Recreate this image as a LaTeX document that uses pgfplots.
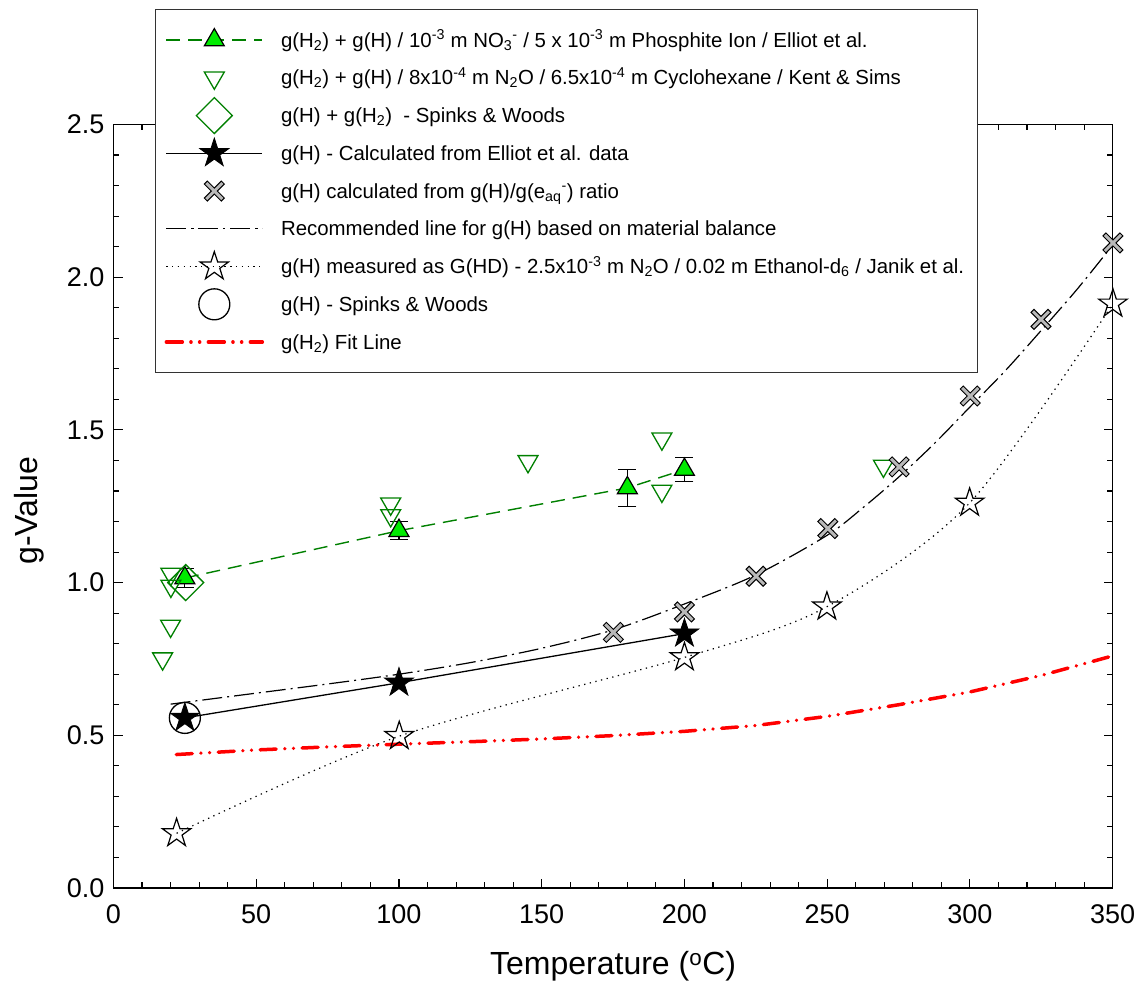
\documentclass[border=0pt]{standalone}
\usepackage{fontspec}
\setmainfont{Liberation Sans}
\usepackage{pgfplots}
\pgfplotsset{compat=1.18}
\usetikzlibrary{plotmarks}

\definecolor{dkgreen}{RGB}{0,128,0}
\definecolor{ltgreen}{RGB}{0,235,0}
\definecolor{xgray}{RGB}{185,185,185}

% filled 5-pointed star
\pgfdeclareplotmark{fstar}{%
  \pgfpathmoveto{\pgfqpoint{0pt}{\pgfplotmarksize}}%
  \pgfpathlineto{\pgfqpoint{-0.2245\pgfplotmarksize}{0.309\pgfplotmarksize}}%
  \pgfpathlineto{\pgfqpoint{-0.9511\pgfplotmarksize}{0.309\pgfplotmarksize}}%
  \pgfpathlineto{\pgfqpoint{-0.3633\pgfplotmarksize}{-0.118\pgfplotmarksize}}%
  \pgfpathlineto{\pgfqpoint{-0.5878\pgfplotmarksize}{-0.809\pgfplotmarksize}}%
  \pgfpathlineto{\pgfqpoint{0pt}{-0.382\pgfplotmarksize}}%
  \pgfpathlineto{\pgfqpoint{0.5878\pgfplotmarksize}{-0.809\pgfplotmarksize}}%
  \pgfpathlineto{\pgfqpoint{0.3633\pgfplotmarksize}{-0.118\pgfplotmarksize}}%
  \pgfpathlineto{\pgfqpoint{0.9511\pgfplotmarksize}{0.309\pgfplotmarksize}}%
  \pgfpathlineto{\pgfqpoint{0.2245\pgfplotmarksize}{0.309\pgfplotmarksize}}%
  \pgfpathclose
  \pgfusepathqfillstroke
}
% open 5-pointed star
\pgfdeclareplotmark{ostar}{%
  \pgfpathmoveto{\pgfqpoint{0pt}{\pgfplotmarksize}}%
  \pgfpathlineto{\pgfqpoint{-0.2245\pgfplotmarksize}{0.309\pgfplotmarksize}}%
  \pgfpathlineto{\pgfqpoint{-0.9511\pgfplotmarksize}{0.309\pgfplotmarksize}}%
  \pgfpathlineto{\pgfqpoint{-0.3633\pgfplotmarksize}{-0.118\pgfplotmarksize}}%
  \pgfpathlineto{\pgfqpoint{-0.5878\pgfplotmarksize}{-0.809\pgfplotmarksize}}%
  \pgfpathlineto{\pgfqpoint{0pt}{-0.382\pgfplotmarksize}}%
  \pgfpathlineto{\pgfqpoint{0.5878\pgfplotmarksize}{-0.809\pgfplotmarksize}}%
  \pgfpathlineto{\pgfqpoint{0.3633\pgfplotmarksize}{-0.118\pgfplotmarksize}}%
  \pgfpathlineto{\pgfqpoint{0.9511\pgfplotmarksize}{0.309\pgfplotmarksize}}%
  \pgfpathlineto{\pgfqpoint{0.2245\pgfplotmarksize}{0.309\pgfplotmarksize}}%
  \pgfpathclose
  \pgfusepathqstroke
}
% thick outlined X
\pgfdeclareplotmark{fatx}{%
  \pgfpathmoveto{\pgfqpoint{0pt}{0.3\pgfplotmarksize}}%
  \pgfpathlineto{\pgfqpoint{0.7\pgfplotmarksize}{\pgfplotmarksize}}%
  \pgfpathlineto{\pgfqpoint{\pgfplotmarksize}{0.7\pgfplotmarksize}}%
  \pgfpathlineto{\pgfqpoint{0.3\pgfplotmarksize}{0pt}}%
  \pgfpathlineto{\pgfqpoint{\pgfplotmarksize}{-0.7\pgfplotmarksize}}%
  \pgfpathlineto{\pgfqpoint{0.7\pgfplotmarksize}{-\pgfplotmarksize}}%
  \pgfpathlineto{\pgfqpoint{0pt}{-0.3\pgfplotmarksize}}%
  \pgfpathlineto{\pgfqpoint{-0.7\pgfplotmarksize}{-\pgfplotmarksize}}%
  \pgfpathlineto{\pgfqpoint{-\pgfplotmarksize}{-0.7\pgfplotmarksize}}%
  \pgfpathlineto{\pgfqpoint{-0.3\pgfplotmarksize}{0pt}}%
  \pgfpathlineto{\pgfqpoint{-\pgfplotmarksize}{0.7\pgfplotmarksize}}%
  \pgfpathlineto{\pgfqpoint{-0.7\pgfplotmarksize}{\pgfplotmarksize}}%
  \pgfpathclose
  \pgfusepathqfillstroke
}

\begin{document}
\begin{tikzpicture}
\useasboundingbox (0bp,0bp) rectangle (1141bp,994bp);
\begin{axis}[
  at={(113.5bp,106bp)}, anchor=south west,
  scale only axis, width=999.2bp, height=763.5bp,
  xmin=0, xmax=350, ymin=0, ymax=2.5,
  xtick={0,50,...,350}, ytick={0,0.5,1.0,1.5,2.0,2.5},
  minor x tick num=4, minor y tick num=4,
  tick align=inside,
  major tick length=9bp, minor tick length=5.5bp,
  every tick/.style={black, line width=1.1bp},
  axis line style={black, line width=1.3bp},
  /pgf/number format/assume math mode=true,
  tick label style={font=\fontsize{27bp}{32bp}\selectfont},
  yticklabel style={/pgf/number format/.cd, fixed, fixed zerofill, precision=1, /tikz/.cd, xshift=-5.5bp},
  xticklabel style={yshift=-13bp},
  label style={font=\fontsize{32bp}{38bp}\selectfont},
  xlabel={Temperature (\textsuperscript{o}C)},
  ylabel={g-Value},
  xlabel style={at={(axis description cs:0.5,-0.102)}, anchor=center},
  ylabel style={at={(axis description cs:-0.0841,0.494)}, anchor=center},
  clip=false,
  legend image code/.code={\draw[mark repeat=2,mark phase=2,#1] plot coordinates {(0bp,0bp) (48bp,0bp) (96bp,0bp)};},
  legend cell align=left,
  legend style={at={(axis description cs:0.0415,1.1513)}, anchor=north west,
    draw=black!80, line width=1.2bp, fill=white,
    inner xsep=9bp, inner ysep=12.5bp, row sep=1.75bp, column sep=13bp,
    font=\fontsize{20.4bp}{24bp}\selectfont,
    nodes={text height=25bp, text depth=11bp, inner ysep=0bp, inner xsep=4bp}},
]

% 1: Elliot et al. g(H2)+g(H)
\addplot[color=dkgreen, line width=1.4bp, dash pattern=on 14bp off 8bp,
  mark=triangle*, mark size=11.5bp,
  mark options={solid, fill=ltgreen, draw=black, line width=1.2bp},
  error bars/.cd, y dir=both, y explicit,
  error bar style={black, solid, line width=1.2bp},
  error mark options={rotate=90, black, solid, mark size=9bp, line width=1.2bp}]
  coordinates {(25,1.015) +- (0,0.032) (100,1.17) +- (0,0.03) (180,1.31) +- (0,0.06) (200,1.37) +- (0,0.04)};
\addlegendentry{g(H\textsubscript{2}) + g(H) / 10\textsuperscript{-3} m NO\textsubscript{3}\textsuperscript{-} / 5 x 10\textsuperscript{-3} m Phosphite Ion / Elliot et al.}

% 2: Kent & Sims
\addplot[only marks, color=dkgreen, mark=triangle, mark size=11.5bp,
  mark options={rotate=180, draw=dkgreen, line width=1.3bp, solid}]
  coordinates {(17.2,0.751) (20.0,0.858) (20.1,0.989) (20.1,1.028) (97.1,1.22) (97.1,1.258) (145.2,1.397) (192.1,1.30) (192.1,1.471) (269.7,1.382)};
\addlegendentry{g(H\textsubscript{2}) + g(H) / 8x10\textsuperscript{-4} m N\textsubscript{2}O / 6.5x10\textsuperscript{-4} m Cyclohexane / Kent \& Sims}

% 3: Spinks & Woods g(H)+g(H2)
\addplot[only marks, color=dkgreen, mark=square, mark size=12.7bp,
  mark options={rotate=45, line width=1.3bp, solid}]
  coordinates {(25.3,1.0)};
\addlegendentry{g(H) + g(H\textsubscript{2})\ \ - Spinks \& Woods}

% 4: g(H) calculated from Elliot
\addplot[black, line width=1.3bp, mark=fstar, mark size=15.2bp,
  mark options={solid, fill=black, line width=0.8bp}]
  coordinates {(25,0.557) (100,0.672) (200,0.833)};
\addlegendentry{g(H) - Calculated from Elliot et al. data}

% 5: g(H) from ratio
\addplot[only marks, black, mark=fatx, mark size=10bp,
  mark options={fill=xgray, draw=black, line width=1bp, solid}]
  coordinates {(175.1,0.837) (200,0.904) (225.1,1.021) (250.2,1.177) (275.2,1.379) (300.1,1.611) (324.9,1.862) (350.1,2.112)};
\addlegendentry{g(H) calculated from g(H)/g(e\textsubscript{aq}\textsuperscript{-}) ratio}

% 6: recommended line
\addplot[black, line width=1.2bp, dash pattern=on 20bp off 5bp on 2bp off 5bp, smooth]
  coordinates {(20,0.602) (50,0.638) (75,0.668) (100,0.70) (125,0.738) (150,0.785) (175,0.845) (200,0.93) (225,1.025) (250,1.155) (262.5,1.245) (275,1.345) (287.5,1.455) (300,1.575) (312.5,1.695) (325,1.826) (337.5,1.96) (350,2.105)};
\addlegendentry{Recommended line for g(H) based on material balance}

% 7: Janik et al.
\addplot[black, line width=1.2bp, dash pattern=on 1.3bp off 4.5bp, smooth,
  mark=ostar, mark size=15bp, mark options={solid, line width=1.2bp}]
  coordinates {(22.1,0.179) (100.1,0.497) (200,0.755) (249.9,0.921) (299.9,1.261) (350.1,1.913)};
\addlegendentry{g(H) measured as G(HD) - 2.5x10\textsuperscript{-3} m N\textsubscript{2}O / 0.02 m Ethanol-d\textsubscript{6} / Janik et al.}

% 8: Spinks & Woods g(H)
\addplot[only marks, black, mark=o, mark size=15.5bp,
  mark options={line width=1.3bp, solid, fill=none}]
  coordinates {(25,0.557)};
\addlegendentry{g(H) - Spinks \& Woods}

% 9: g(H2) fit line
\addplot[red, line width=3.5bp, line cap=round,
  dash pattern=on 16bp off 8.6bp on 0.1bp off 8.6bp on 0.1bp off 8.6bp]
  coordinates {(22,0.437) (50,0.452) (75,0.462) (100,0.471) (125,0.479) (150,0.488) (175,0.499) (200,0.513) (225,0.532) (250,0.562) (275,0.60) (300,0.642) (325,0.696) (350,0.76)};
\addlegendentry{g(H\textsubscript{2}) Fit Line}

\end{axis}
\end{tikzpicture}
\end{document}
